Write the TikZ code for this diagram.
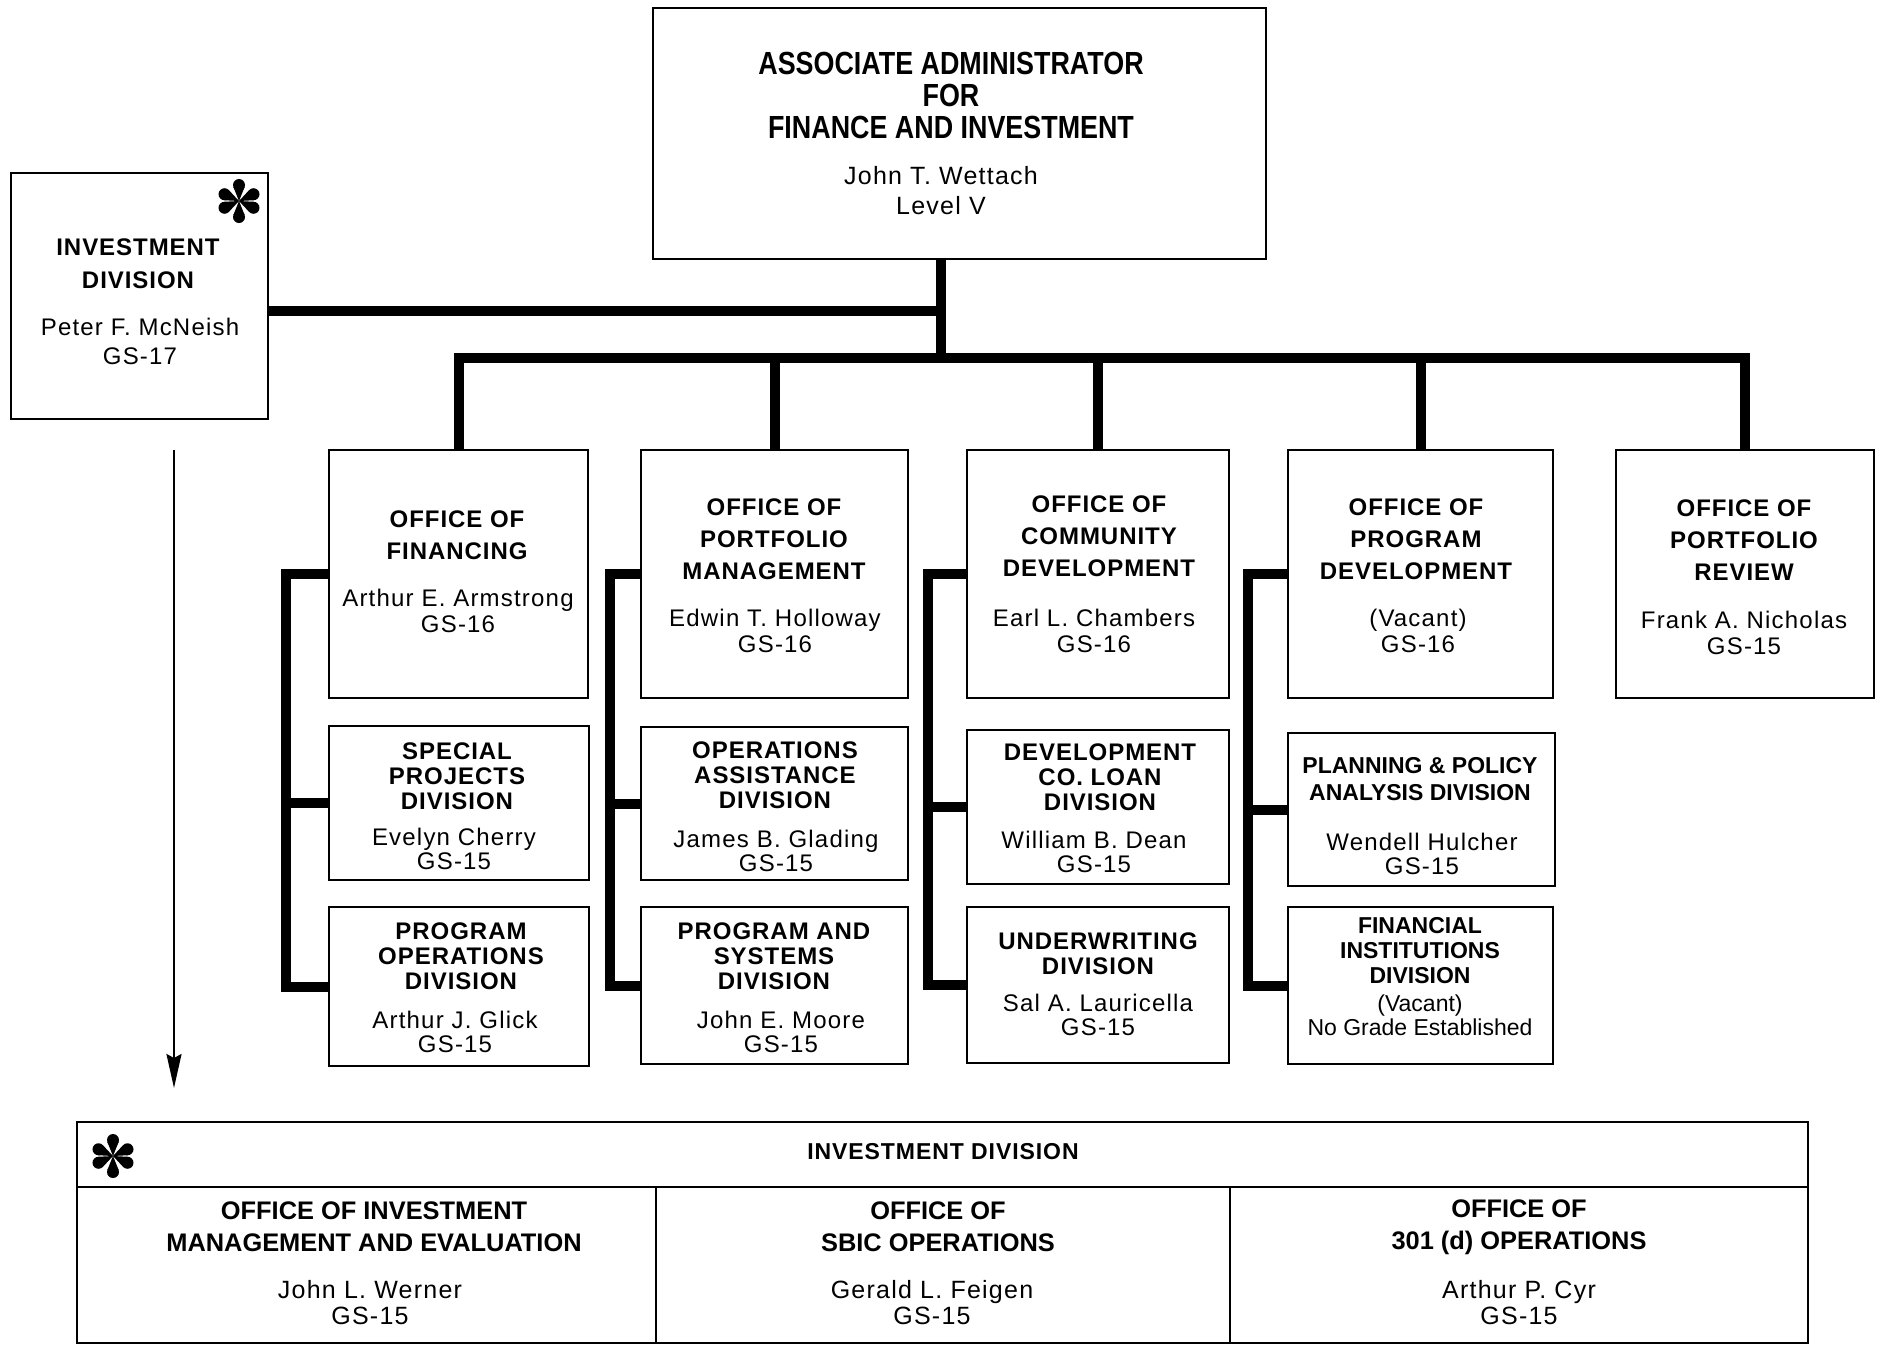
\documentclass[tikz,border=0pt]{standalone}
\usepackage{fontspec}
\setmainfont{Liberation Sans}
\newfontfamily\hdfont[FakeStretch=0.84]{Liberation Sans Bold}
\newfontfamily\ttlfont[LetterSpace=4]{Liberation Sans Bold}
\newfontfamily\plfont{Liberation Sans Bold}
\newfontfamily\nmfont[LetterSpace=5]{Liberation Sans}
\usetikzlibrary{arrows.meta}

\begin{document}
\begin{tikzpicture}[x=0.5pt,y=-0.5pt,
  box/.style={draw,line width=1.4pt,inner sep=0pt},
  boxsize/.style 2 args={minimum width=#1*0.5pt,minimum height=#2*0.5pt},
  link/.style={line width=5pt},
  ttl/.style={align=center,inner sep=0pt,font=\ttlfont\fontsize{12}{16}\selectfont},
  dv/.style={align=center,inner sep=0pt,font=\ttlfont\fontsize{12}{12.5}\selectfont},
  bt/.style={align=center,inner sep=0pt,font=\plfont\fontsize{12.7}{16}\selectfont},
  nm/.style={align=center,inner sep=0pt,font=\nmfont\fontsize{12}{13}\selectfont},
  dn/.style={align=center,inner sep=0pt,font=\nmfont\fontsize{12}{12}\selectfont}]
\useasboundingbox (0,0) rectangle (1881,1345);

\node[box,boxsize={613}{251}] (top) at (959.5,133.5) {};
\node[box,boxsize={257}{246}] (invd) at (139.5,296) {};
\node[box,boxsize={259}{248}] (fin) at (458.5,574) {};
\node[box,boxsize={267}{248}] (ppm) at (774.5,574) {};
\node[box,boxsize={262}{248}] (cmd) at (1098,574) {};
\node[box,boxsize={265}{248}] (prd) at (1420.5,574) {};
\node[box,boxsize={258}{248}] (pfr) at (1745,574) {};
\node[box,boxsize={260}{154}] (spd) at (459,803) {};
\node[box,boxsize={267}{153}] (oad) at (774.5,803.5) {};
\node[box,boxsize={262}{154}] (dcl) at (1098,807) {};
\node[box,boxsize={267}{153}] (ppa) at (1421.5,809.5) {};
\node[box,boxsize={260}{159}] (pod) at (459,986.5) {};
\node[box,boxsize={267}{157}] (psd) at (774.5,985.5) {};
\node[box,boxsize={262}{156}] (uwd) at (1098,985) {};
\node[box,boxsize={265}{157}] (fid) at (1420.5,985.5) {};
\node[box,boxsize={1731}{65}] (bh) at (942.5,1154.5) {};
\node[box,boxsize={579}{156}] (bc1) at (366.5,1265) {};
\node[box,boxsize={574}{156}] (bc2) at (943,1265) {};
\node[box,boxsize={578}{156}] (bc3) at (1519,1265) {};

\coordinate (bus) at (941,358);
\coordinate (invj) at (941,311);
\draw[link] (top.south -| bus) -- (bus);
\draw[link] (invd.east |- invj) -- (invj);
\foreach \o in {fin,ppm,cmd,prd,pfr} \draw[link] (\o.north) |- (bus);

\draw[link] (fin.west) -- ++(-42,0) |- (pod.west);
\draw[link] (spd.west) -- ++(-42,0);
\draw[link] (ppm.west) -- ++(-30,0) |- (psd.west);
\draw[link] (oad.west) -- ++(-30,0);
\draw[link] (cmd.west) -- ++(-38,0) |- (uwd.west);
\draw[link] (dcl.west) -- ++(-38,0);
\draw[link] (prd.west) -- ++(-39,0) |- (fid.west);
\draw[link] (ppa.west) -- ++(-39,0);

\coordinate (arrS) at (174,450);
\coordinate (arrE) at (174,1088);
\draw[line width=1.1pt,-{Stealth[length=17pt,width=7.5pt,inset=2pt]}] (arrS) -- (arrE);

\coordinate (ast1) at (239,201);
\coordinate (ast2) at (113,1156);
\foreach \c in {ast1,ast2} \foreach \a in {25,90,155,205,270,335} {
  \fill (\c) -- +(\a+22:15) -- +(\a-22:15) -- cycle;
  \fill (\c) ++(\a:16) circle (3pt);
}

\node[align=center,inner sep=0pt,font=\hdfont\fontsize{16}{16}\selectfont] (topT) at (951,95.5) {ASSOCIATE ADMINISTRATOR\\FOR\\FINANCE AND INVESTMENT};
\node[nm,font=\nmfont\fontsize{12.5}{15}\selectfont] (topN) at (941,191) {John T. Wettach\\Level V};
\node[ttl,font=\ttlfont\fontsize{12}{16.5}\selectfont] (invdT) at (138,263.5) {INVESTMENT\\DIVISION};
\node[nm,font=\nmfont\fontsize{12}{14.5}\selectfont] (invdN) at (140,341) {Peter F. McNeish\\GS-17};

\node[ttl] (finT) at (457,535.5) {OFFICE OF\\FINANCING};
\node[nm] (finN) at (458,611) {Arthur E. Armstrong\\GS-16};
\node[ttl] (ppmT) at (774,539) {OFFICE OF\\PORTFOLIO\\MANAGEMENT};
\node[nm] (ppmN) at (775,631) {Edwin T. Holloway\\GS-16};
\node[ttl] (cmdT) at (1099,536.5) {OFFICE OF\\COMMUNITY\\DEVELOPMENT};
\node[nm] (cmdN) at (1094,631) {Earl L. Chambers\\GS-16};
\node[ttl] (prdT) at (1416,539.5) {OFFICE OF\\PROGRAM\\DEVELOPMENT};
\node[nm] (prdN) at (1418,631) {(Vacant)\\GS-16};
\node[ttl] (pfrT) at (1744,540.5) {OFFICE OF\\PORTFOLIO\\REVIEW};
\node[nm] (pfrN) at (1744,632.5) {Frank A. Nicholas\\GS-15};

\node[dv] (spdT) at (457,776) {SPECIAL\\PROJECTS\\DIVISION};
\node[dn] (spdN) at (454,849) {Evelyn Cherry\\GS-15};
\node[dv] (oadT) at (775,775.5) {OPERATIONS\\ASSISTANCE\\DIVISION};
\node[dn] (oadN) at (776,851) {James B. Glading\\GS-15};
\node[dv] (dclT) at (1100,777.5) {DEVELOPMENT\\CO. LOAN\\DIVISION};
\node[dn] (dclN) at (1094,852) {William B. Dean\\GS-15};
\node[dv,font=\plfont\fontsize{11.5}{13.5}\selectfont] (ppaT) at (1420,779.5) {PLANNING \& POLICY\\ANALYSIS DIVISION};
\node[dn] (ppaN) at (1422,853.5) {Wendell Hulcher\\GS-15};
\node[dv] (podT) at (461,956.5) {PROGRAM\\OPERATIONS\\DIVISION};
\node[dn] (podN) at (455,1032) {Arthur J. Glick\\GS-15};
\node[dv] (psdT) at (774,956.5) {PROGRAM AND\\SYSTEMS\\DIVISION};
\node[dn] (psdN) at (781,1032) {John E. Moore\\GS-15};
\node[dv] (uwdT) at (1098,954) {UNDERWRITING\\DIVISION};
\node[dn] (uwdN) at (1098,1015) {Sal A. Lauricella\\GS-15};
\node[dv,font=\plfont\fontsize{11.5}{12.5}\selectfont] (fidT) at (1420,950.5) {FINANCIAL\\INSTITUTIONS\\DIVISION};
\node[dn,font=\rmfamily\fontsize{11.5}{12}\selectfont] (fidN) at (1420,1015) {(Vacant)\\No Grade Established};

\node[inner sep=0pt,font=\ttlfont\fontsize{11.5}{12}\selectfont] (bhT) at (943,1152) {INVESTMENT DIVISION};
\node[bt] (bc1T) at (374,1227) {OFFICE OF INVESTMENT\\MANAGEMENT AND EVALUATION};
\node[nm,font=\nmfont\fontsize{12.5}{13}\selectfont] (bc1N) at (370,1303) {John L. Werner\\GS-15};
\node[bt] (bc2T) at (938,1227) {OFFICE OF\\SBIC OPERATIONS};
\node[nm,font=\nmfont\fontsize{12.5}{13}\selectfont] (bc2N) at (932,1303) {Gerald L. Feigen\\GS-15};
\node[bt] (bc3T) at (1519,1227) {OFFICE OF\\301 (d) OPERATIONS};
\node[nm,font=\nmfont\fontsize{12.5}{13}\selectfont] (bc3N) at (1519,1303) {Arthur P. Cyr\\GS-15};
\end{tikzpicture}
\end{document}
